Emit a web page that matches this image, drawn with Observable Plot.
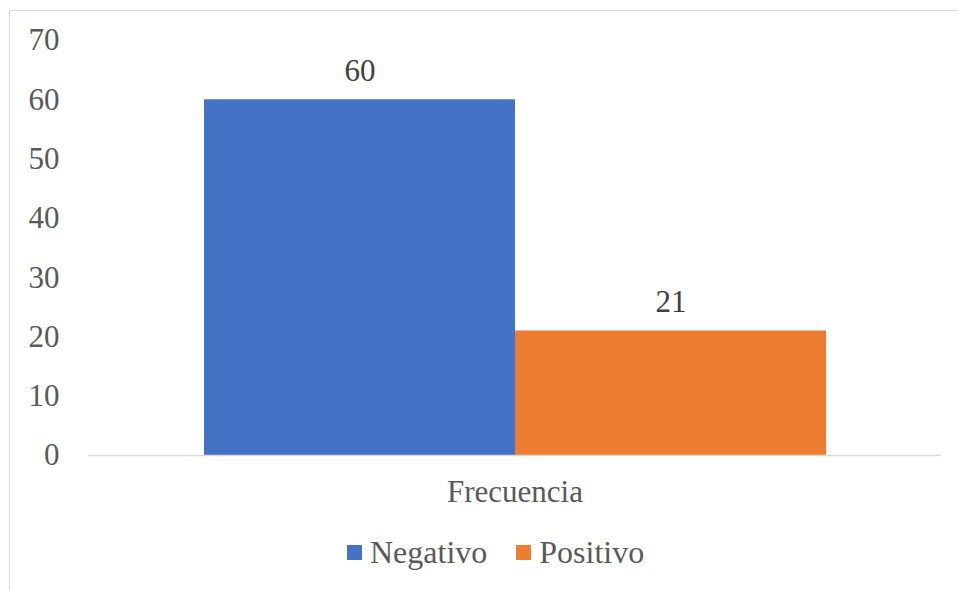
<!DOCTYPE html>
<html><head><meta charset="utf-8">
<script src="https://cdn.jsdelivr.net/npm/d3@7"></script>
<script src="https://cdn.jsdelivr.net/npm/@observablehq/plot@0.6"></script>
<style>
html,body{margin:0;padding:0;background:#fff;}
body{width:958px;height:590px;overflow:hidden;position:relative;font-family:"Liberation Serif",serif;}
#frame{position:absolute;left:9px;top:10px;width:960px;height:600px;border-left:1.5px solid #d9d9d9;border-top:1.5px solid #d9d9d9;}
#chart{position:absolute;left:0;top:0;}
#legend{position:absolute;left:347px;top:536px;display:flex;align-items:center;font-size:32px;color:#595959;line-height:1;}
#legend .item{display:flex;align-items:center;margin-right:29px;}
#legend .sw{width:15px;height:15px;margin-right:8px;display:inline-block;}
</style>
</head><body>
<div id="frame"></div>
<div id="chart"></div>
<div id="legend"></div>
<script>
const group = "Frecuencia";
const categories = ["Negativo", "Positivo"];
const values = [60, 21];
const colors = ["#4472C4", "#ED7D31"];
const yTicks = [0, 10, 20, 30, 40, 50, 60, 70];

const data = categories.map((c, i) => ({group, category: c, value: values[i]}));
const FONT = "Liberation Serif, serif";

const chart = Plot.plot({
  width: 958,
  height: 520,
  marginLeft: 88,
  marginRight: 17,
  marginTop: 40,
  marginBottom: 65,
  style: {fontFamily: FONT, background: "transparent", color: "#595959"},
  fx: {domain: [group], padding: 0, axis: null},
  x: {domain: categories, paddingInner: 0, paddingOuter: 0.37, axis: null},
  y: {domain: [0, 70], axis: null},
  color: {domain: categories, range: colors},
  marks: [
    Plot.barY(data, {fx: "group", x: "category", y: "value", fill: "category"}),
    Plot.ruleY([0], {stroke: "#d9d9d9", strokeWidth: 1.5}),
    Plot.text(data, {fx: "group", x: "category", y: "value", text: d => String(d.value), lineAnchor: "bottom", dy: -19, fill: "#404040", fontSize: 31, fontFamily: FONT}),
    Plot.axisY({ticks: yTicks, tickSize: 0, tickPadding: 29, fontSize: 31, fill: "#595959", label: null, fontFamily: FONT}),
    Plot.axisFx({anchor: "bottom", tickSize: 0, tickPadding: 24, fontSize: 31, fill: "#595959", label: null, fontFamily: FONT})
  ]
});
document.getElementById("chart").appendChild(chart);

const legend = document.getElementById("legend");
categories.forEach((c, i) => {
  const item = document.createElement("span");
  item.className = "item";
  const sw = document.createElement("span");
  sw.className = "sw";
  sw.style.background = colors[i];
  item.appendChild(sw);
  item.appendChild(document.createTextNode(c));
  legend.appendChild(item);
});
</script>
</body></html>
